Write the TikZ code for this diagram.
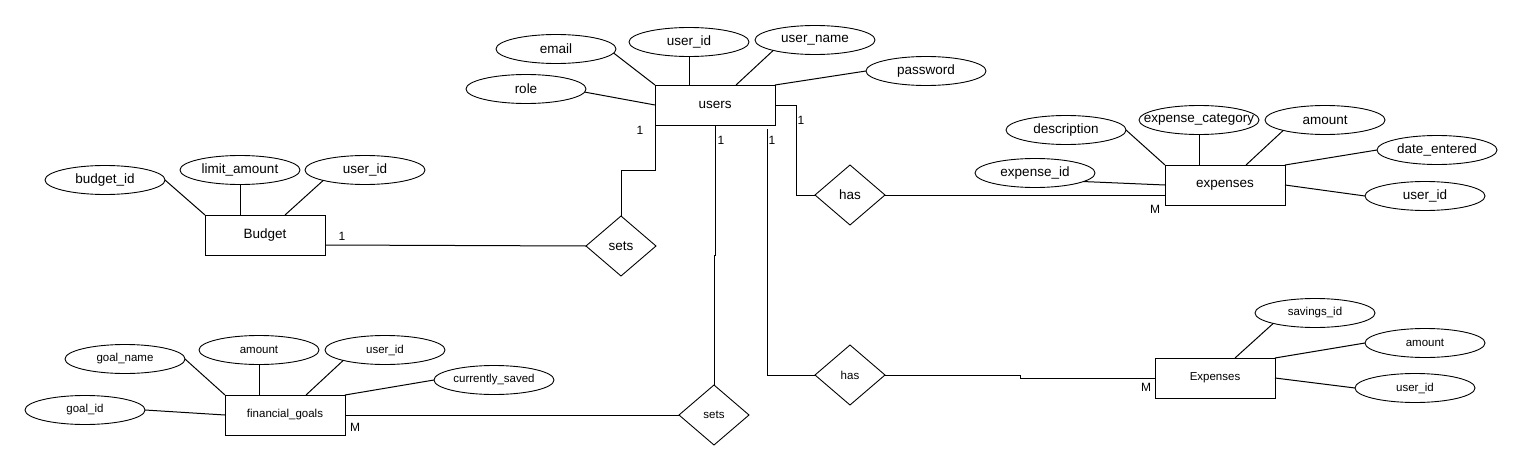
\documentclass[tikz,border=0pt]{standalone}
\usepackage{fontspec}
\setmainfont{Liberation Sans}
\usetikzlibrary{shapes.geometric}
\begin{document}
\begin{tikzpicture}[x=1pt,y=-1pt,
  every node/.style={inner sep=0pt, outer sep=0pt},
  ent/.style={draw, line width=1pt, minimum width=120pt, minimum height=40pt},
  attr/.style={draw, ellipse, line width=0.9pt, minimum width=120pt, minimum height=29pt},
  rel/.style={draw, diamond, line width=0.9pt, minimum width=70pt, minimum height=60pt},
  big/.style={font=\fontsize{13.5}{15}\selectfont},
  small/.style={font=\fontsize{11.5}{13}\selectfont},
  card/.style={font=\fontsize{12}{14}\selectfont},
  conn/.style={line width=1pt}]
\useasboundingbox (0,0) rectangle (1521,471);
\fill[white] (0,0) rectangle (1521,471);

% users
\node[ent,big] (users) at (715,105) {users};
\node[attr,big] (email) at (556,49) {email};
\node[attr,big] (uid) at (689,42) {user\_id};
\node[attr,big] (uname) at (815,40) {user\_name};
\node[attr,big] (pwd) at (926,71) {password};
\node[attr,big] (role) at (526,89) {role};
\draw[conn] (email.-4) -- (users.north west);
\draw[conn] (uid) -- (uid |- users.north);
\draw[conn] (uname.194) -- ([xshift=21pt]users.north);
\draw[conn] (pwd.west) -- (users.north east);
\draw[conn] (role.-3) -- (users.west);

% relationships
\node[rel,big] (sets1) at (621,246) {sets};
\node[rel,small] (sets2) at (714,415) {sets};
\node[rel,big] (has1) at (850,195) {has};
\node[rel,small] (has2) at (850,375) {has};

% Budget
\node[ent,big] (budget) at (265,235) {Budget};
\node[attr,big] (bid) at (105,180) {budget\_id};
\node[attr,big] (lim) at (240,170) {limit\_amount};
\node[attr,big] (buid) at (365,170) {user\_id};
\draw[conn] (bid.east) -- (budget.north west);
\draw[conn] (lim) -- (lim |- budget.north);
\draw[conn] (buid.194) -- ([xshift=20pt]budget.north);

% expenses
\node[ent,big] (exp) at (1225,185) {expenses};
\node[attr,big] (desc) at (1066,130) {description};
\node[attr,big] (ecat) at (1199,120) {};
\node[big] (ecattext) at (ecat) {expense\_category};
\node[attr,big] (eamt) at (1325,120) {amount};
\node[attr,big] (edate) at (1437,150) {date\_entered};
\node[attr,big] (eid) at (1035,173) {expense\_id};
\node[attr,big] (euid) at (1425,196) {user\_id};
\draw[conn] (desc.east) -- (exp.north west);
\draw[conn] (ecat.south) -- (ecat.south |- exp.north);
\draw[conn] (eamt.194) -- ([xshift=21pt]exp.north);
\draw[conn] (edate.west) -- (exp.north east);
\draw[conn] (eid.-10) -- (exp.west);
\draw[conn] (euid.west) -- (exp.east);

% Expenses (savings)
\node[ent,small] (exp2) at (1215,378) {Expenses};
\node[attr,small] (sid) at (1315,313) {savings\_id};
\node[attr,small] (samt) at (1425,343) {amount};
\node[attr,small] (suid) at (1415,388) {user\_id};
\draw[conn] (sid.194) -- ([xshift=20pt]exp2.north);
\draw[conn] (samt.west) -- (exp2.north east);
\draw[conn] (suid.west) -- (exp2.east);

% financial goals
\node[ent,small] (fg) at (285,415) {financial\_goals};
\node[attr,small] (gname) at (125,359) {goal\_name};
\node[attr,small] (gamt) at (259,350) {amount};
\node[attr,small] (guid) at (385,350) {user\_id};
\node[attr,small] (gsaved) at (494,380) {currently\_saved};
\node[attr,small] (gid) at (85,410) {goal\_id};
\draw[conn] (gname.east) -- (fg.north west);
\draw[conn] (gamt) -- (gamt |- fg.north);
\draw[conn] (guid.194) -- ([xshift=21pt]fg.north);
\draw[conn] (gsaved.west) -- (fg.north east);
\draw[conn] (gid.east) -- (fg.west);

% connectors
\draw[conn] (users.south west) -- ++(0,45) -| (sets1.north);
\draw[conn] (users.south) -- ++(0,130) -- ++(-1,0) -- (sets2.north);
\draw[conn] ([xshift=52pt,yshift=-4pt]users.south) |- (has2.west);
\draw[conn] (users.east) -- ++(21,0) |- (has1.west);
\draw[conn] ([yshift=-10pt]budget.east) -- (sets1.west);
\draw[conn] (has1.east) -- (has1.east -| exp.west);
\coordinate (jog) at (1020,375);
\draw[conn] (has2.east) -- (jog) |- (exp2.west);
\draw[conn] (fg.east) -- (sets2.west);

% cardinalities
\node[card] (c1) at (640,130) {1};
\node[card] (c2) at (721,140) {1};
\node[card] (c3) at (772,140) {1};
\node[card] (c4) at (801,120) {1};
\node[card] (c5) at (342,236) {1};
\node[card] (m1) at (1155,209) {M};
\node[card] (m2) at (1146,387) {M};
\node[card] (m3) at (355,427) {M};
\end{tikzpicture}
\end{document}
